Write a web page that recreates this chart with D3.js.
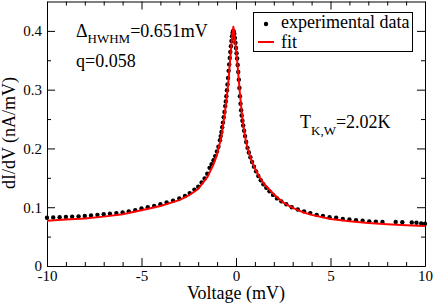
<!DOCTYPE html>
<html>
<head>
<meta charset="utf-8">
<script src="https://cdn.jsdelivr.net/npm/d3@7"></script>
<style>
  body { margin: 0; background: #fff; }
  svg { display: block; font-family: "Liberation Serif", "Times New Roman", serif; }
  svg text { font-family: "Liberation Serif", "Times New Roman", serif; }
</style>
</head>
<body>
<svg id="chart" width="436" height="304"></svg>
<script>
// measured points (voltage in mV, conductance in nA/mV)
const expV = [
  -10.0, -9.67, -9.33, -9.0, -8.67, -8.33, -8.0, -7.67, -7.33, -7.0,
  -6.67, -6.33, -6.0, -5.67, -5.33, -5.0, -4.67, -4.33, -4.0, -3.67,
  -3.33, -3.0, -2.7, -2.45, -2.2, -2.0, -1.82, -1.66, -1.52, -1.40,
  -1.29, -1.19, -1.10, -1.01, -0.93, -0.85, -0.81, -0.77, -0.73, -0.69,
  -0.65, -0.61, -0.57, -0.54, -0.51, -0.48, -0.45, -0.42, -0.39, -0.36,
  -0.33, -0.30, -0.27, -0.24, -0.21, -0.18, -0.15, -0.12, -0.09, -0.06,
  -0.03, 0.00, 0.03, 0.06, 0.09, 0.12, 0.15, 0.18, 0.21, 0.24,
  0.27, 0.30, 0.34, 0.38, 0.43, 0.48, 0.54, 0.61, 0.68, 0.76,
  0.85, 0.95, 1.06, 1.18, 1.31, 1.45, 1.60, 1.77, 1.96, 2.17,
  2.40, 2.66, 2.95, 3.27, 3.60, 3.93, 4.27, 4.60, 4.95, 5.30,
  5.65, 6.00, 6.35, 6.70, 7.05, 7.40, 7.75, 8.45, 8.80, 9.30,
  9.55, 9.80, 10.0
];
const expG = [
  0.082, 0.0825, 0.083, 0.0835, 0.084, 0.0845, 0.085, 0.086, 0.087, 0.088,
  0.089, 0.090, 0.091, 0.093, 0.095, 0.098, 0.100, 0.102, 0.105, 0.108,
  0.111, 0.115, 0.119, 0.124, 0.130, 0.135, 0.142, 0.149, 0.157, 0.167,
  0.173, 0.180, 0.187, 0.195, 0.203, 0.214, 0.221, 0.228, 0.236, 0.244,
  0.253, 0.262, 0.272, 0.280, 0.289, 0.299, 0.309, 0.320, 0.332, 0.343,
  0.354, 0.364, 0.374, 0.383, 0.391, 0.397, 0.400, 0.399, 0.395, 0.388,
  0.380, 0.371, 0.362, 0.353, 0.342, 0.330, 0.317, 0.303, 0.289, 0.276,
  0.265, 0.256, 0.247, 0.239, 0.230, 0.221, 0.211, 0.201, 0.193, 0.185,
  0.177, 0.169, 0.161, 0.153, 0.146, 0.139, 0.133, 0.127, 0.121, 0.115,
  0.110, 0.105, 0.100, 0.096, 0.093, 0.090, 0.087, 0.085, 0.083, 0.082,
  0.080, 0.079, 0.078, 0.077, 0.076, 0.0755, 0.075, 0.075, 0.0745, 0.074,
  0.0735, 0.0725, 0.072
];

// fitted curve
const fitV = [
  -10, -9, -8, -7, -6, -5, -4, -3, -2.5, -2, -1.5, -1.2, -1.0, -0.8,
  -0.6, -0.5, -0.4, -0.3, -0.2, -0.14, -0.08, 0, 0.1, 0.2, 0.3, 0.4,
  0.5, 0.6, 0.8, 1.0, 1.25, 1.5, 2, 2.5, 3, 3.5, 4, 5, 6, 7, 8, 9, 10
];
const fitG = [
  0.077, 0.079, 0.081, 0.084, 0.088, 0.095, 0.102, 0.112, 0.120, 0.131,
  0.152, 0.172, 0.190, 0.216, 0.258, 0.283, 0.315, 0.355, 0.392, 0.407,
  0.392, 0.370, 0.335, 0.296, 0.262, 0.236, 0.217, 0.202, 0.181, 0.166,
  0.151, 0.139, 0.122, 0.108, 0.099, 0.092, 0.087, 0.080, 0.076, 0.073,
  0.071, 0.0695, 0.068
];

const xTicks = [-10, -5, 0, 5, 10];
const xTickLabels = ["-10", "-5", "0", "5", "10"];
const xMinorTicks = [-9, -8, -7, -6, -4, -3, -2, -1, 1, 2, 3, 4, 6, 7, 8, 9];
const yTicks = [0, 0.1, 0.2, 0.3, 0.4];
const yTickLabels = ["0", "0.1", "0.2", "0.3", "0.4"];
const yMinorTicks = [0.05, 0.15, 0.25, 0.35];

const SERIF = "'Liberation Serif', 'Times New Roman', serif";

const svg = d3.select("#chart");

const x = d3.scaleLinear().domain([-10, 10]).range([47, 425]);
const y = d3.scaleLinear().domain([0, 0.45]).range([266, 1.5]);

// axes, ticks pointing inward on all four sides
const plot = svg.append("g");

const styleAxis = (g) => {
  g.attr("font-family", null).attr("font-size", null);
  g.selectAll("path, line").attr("stroke", "#000");
  g.selectAll("text")
    .style("font-family", SERIF)
    .style("font-size", "15px")
    .attr("fill", "#000");
};

plot.append("g")
  .attr("transform", `translate(0,${y(0)})`)
  .call(d3.axisBottom(x).tickValues(xTicks).tickSizeInner(-8).tickSizeOuter(0)
    .tickPadding(4).tickFormat((d, i) => xTickLabels[i]))
  .call(styleAxis);
plot.append("g")
  .attr("transform", `translate(0,${y(0)})`)
  .call(d3.axisBottom(x).tickValues(xMinorTicks).tickSize(-4).tickFormat(""))
  .call((g) => g.select(".domain").remove())
  .call(styleAxis);

plot.append("g")
  .attr("transform", `translate(0,${y(0.45)})`)
  .call(d3.axisTop(x).tickValues(xTicks).tickSizeInner(-8).tickSizeOuter(0).tickFormat(""))
  .call(styleAxis);
plot.append("g")
  .attr("transform", `translate(0,${y(0.45)})`)
  .call(d3.axisTop(x).tickValues(xMinorTicks).tickSize(-4).tickFormat(""))
  .call((g) => g.select(".domain").remove())
  .call(styleAxis);

plot.append("g")
  .attr("transform", `translate(${x(-10)},0)`)
  .call(d3.axisLeft(y).tickValues(yTicks).tickSizeInner(-8).tickSizeOuter(0)
    .tickPadding(5).tickFormat((d, i) => yTickLabels[i]))
  .call(styleAxis);
plot.append("g")
  .attr("transform", `translate(${x(-10)},0)`)
  .call(d3.axisLeft(y).tickValues(yMinorTicks).tickSize(-4).tickFormat(""))
  .call((g) => g.select(".domain").remove())
  .call(styleAxis);

plot.append("g")
  .attr("transform", `translate(${x(10)},0)`)
  .call(d3.axisRight(y).tickValues(yTicks).tickSizeInner(-8).tickSizeOuter(0).tickFormat(""))
  .call(styleAxis);
plot.append("g")
  .attr("transform", `translate(${x(10)},0)`)
  .call(d3.axisRight(y).tickValues(yMinorTicks).tickSize(-4).tickFormat(""))
  .call((g) => g.select(".domain").remove())
  .call(styleAxis);

// axis titles
svg.append("text")
  .attr("x", 236)
  .attr("y", 298.5)
  .attr("text-anchor", "middle")
  .attr("font-size", 18)
  .text("Voltage (mV)");
svg.append("text")
  .attr("transform", "translate(15,133) rotate(-90)")
  .attr("text-anchor", "middle")
  .attr("font-size", 18)
  .text("dI/dV (nA/mV)");

// data
const points = expV.map((v, i) => ({ v, g: expG[i] }));
const fit = fitV.map((v, i) => ({ v, g: fitG[i] }));

svg.append("g")
  .selectAll("circle")
  .data(points)
  .join("circle")
  .attr("cx", (d) => x(d.v))
  .attr("cy", (d) => y(d.g))
  .attr("r", 2.2)
  .attr("fill", "#000");

svg.append("path")
  .datum(fit)
  .attr("fill", "none")
  .attr("stroke", "#ff0000")
  .attr("stroke-width", 2)
  .attr("stroke-linejoin", "round")
  .attr("d", d3.line().x((d) => x(d.v)).y((d) => y(d.g)));

// annotations
const ann = svg.append("text").attr("x", 76).attr("y", 37).attr("font-size", 18);
ann.append("tspan").text("\u0394");
ann.append("tspan").attr("font-size", 13).attr("dy", 6).text("HWHM");
ann.append("tspan").attr("dy", -6).text("=0.651mV");

svg.append("text").attr("x", 76).attr("y", 67).attr("font-size", 18).text("q=0.058");

const tk = svg.append("text").attr("x", 300).attr("y", 128).attr("font-size", 18);
tk.append("tspan").text("T");
tk.append("tspan").attr("font-size", 13).attr("dy", 7).text("K,W");
tk.append("tspan").attr("dy", -7).text("=2.02K");

// legend
const legend = svg.append("g");
legend.append("rect")
  .attr("x", 253.5).attr("y", 12.5)
  .attr("width", 159).attr("height", 39)
  .attr("fill", "#fff").attr("stroke", "#000");
legend.append("circle").attr("cx", 266).attr("cy", 24).attr("r", 2.2).attr("fill", "#000");
legend.append("line")
  .attr("x1", 258).attr("x2", 274).attr("y1", 42).attr("y2", 42)
  .attr("stroke", "#ff0000").attr("stroke-width", 2);
legend.append("text").attr("x", 281).attr("y", 28).attr("font-size", 18).text("experimental data");
legend.append("text").attr("x", 281).attr("y", 47.5).attr("font-size", 18).text("fit");
</script>
</body>
</html>
